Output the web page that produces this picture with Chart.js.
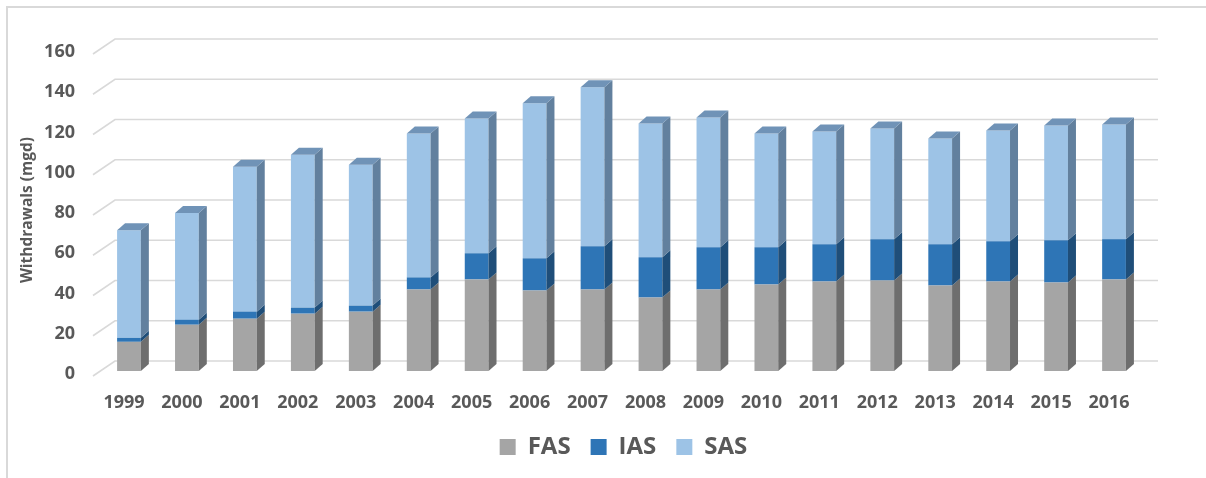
<!DOCTYPE html>
<html>
<head>
<meta charset="utf-8">
<script src="https://cdn.jsdelivr.net/npm/chart.js@4/dist/chart.umd.min.js"></script>
<style>
  html, body { margin: 0; padding: 0; background: #ffffff; }
  #wrap { width: 1206px; height: 478px; position: relative; }
</style>
</head>
<body>
<div id="wrap"><canvas id="c" width="1206" height="478"></canvas></div>
<script>
const years = ['1999','2000','2001','2002','2003','2004','2005','2006','2007','2008','2009','2010','2011','2012','2013','2014','2015','2016'];
const fas = [14.5, 23, 26, 28.5, 29.5, 40.5, 45.5, 40, 40.5, 36.5, 40.5, 43, 44.5, 45, 42.5, 44.5, 44, 45.5];
const ias = [2, 2.5, 3.5, 3, 3, 6, 13, 16, 21.5, 20, 21, 18.5, 18.5, 20.5, 20.5, 20, 21, 20];
const sas = [53.5, 53, 72, 76, 70, 71.5, 67, 77, 79, 66.5, 64.5, 56.5, 56, 55, 52.5, 55, 57, 57];
const yTicks = [0, 20, 40, 60, 80, 100, 120, 140, 160];

const FONT = "'Open Sans', 'DejaVu Sans', sans-serif";
const TXT = '#595959';
const faces = [
  { front: '#A5A5A5', side: '#6E6E6E', top: '#8C8C8C' },
  { front: '#2E75B6', side: '#1F4E79', top: '#255F94' },
  { front: '#9DC3E6', side: '#62809E', top: '#7093B7' }
];
const DX = 8, DY = -7;
const LEGEND_SHIFT = 52;

const framePlugin = {
  id: 'frame',
  afterLayout(chart) {
    const lg = chart.legend;
    if (lg) { lg.left += LEGEND_SHIFT; lg.right += LEGEND_SHIFT; }
  },
  beforeDraw(chart) {
    const ctx = chart.ctx;
    ctx.save();
    ctx.fillStyle = '#ffffff';
    ctx.fillRect(0, 0, chart.width, chart.height);
    ctx.strokeStyle = '#D9D9D9';
    ctx.lineWidth = 2;
    ctx.beginPath();
    ctx.moveTo(7, chart.height + 2);
    ctx.lineTo(7, 7);
    ctx.lineTo(chart.width + 2, 7);
    ctx.stroke();
    ctx.restore();
  },
  beforeDatasetsDraw(chart) {
    const ctx = chart.ctx;
    const y = chart.scales.y;
    const a = chart.chartArea;
    ctx.save();
    ctx.strokeStyle = '#D9D9D9';
    ctx.lineWidth = 1.6;
    yTicks.forEach(v => {
      const py = y.getPixelForValue(v);
      ctx.beginPath();
      ctx.moveTo(a.left - 7, py + 5);
      ctx.lineTo(a.left + 15, py - 10);
      ctx.lineTo(a.right + 15, py - 10);
      ctx.stroke();
    });
    ctx.restore();
  },
  afterDatasetsDraw(chart) {
    const ctx = chart.ctx;
    ctx.save();
    const n = chart.data.datasets.length;
    chart.data.datasets.forEach((ds, di) => {
      const meta = chart.getDatasetMeta(di);
      meta.data.forEach(bar => {
        const p = bar.getProps(['x', 'y', 'base', 'width'], true);
        const r = p.x + p.width / 2;
        const l = p.x - p.width / 2;
        const top = Math.min(p.y, p.base), bot = Math.max(p.y, p.base);
        ctx.fillStyle = faces[di].side;
        ctx.beginPath();
        ctx.moveTo(r, top);
        ctx.lineTo(r + DX, top + DY);
        ctx.lineTo(r + DX, bot + DY);
        ctx.lineTo(r, bot);
        ctx.closePath();
        ctx.fill();
        if (di === n - 1) {
          ctx.fillStyle = faces[di].top;
          ctx.beginPath();
          ctx.moveTo(l, top);
          ctx.lineTo(l + DX, top + DY);
          ctx.lineTo(r + DX, top + DY);
          ctx.lineTo(r, top);
          ctx.closePath();
          ctx.fill();
        }
      });
    });
    ctx.restore();
  }
};

new Chart(document.getElementById('c'), {
  type: 'bar',
  data: {
    labels: years,
    datasets: [
      { label: 'FAS', data: fas, backgroundColor: faces[0].front },
      { label: 'IAS', data: ias, backgroundColor: faces[1].front },
      { label: 'SAS', data: sas, backgroundColor: faces[2].front }
    ]
  },
  options: {
    responsive: false,
    animation: false,
    devicePixelRatio: 1,
    layout: { padding: { top: 49, right: 63, left: 0, bottom: 9 } },
    datasets: { bar: { categoryPercentage: 1, barPercentage: 0.41, borderWidth: 0 } },
    plugins: {
      legend: {
        position: 'bottom',
        labels: {
          font: { family: FONT, size: 24, weight: 'bold' },
          color: TXT,
          boxWidth: 16,
          boxHeight: 16,
          padding: 20
        }
      },
      tooltip: { enabled: false }
    },
    scales: {
      x: {
        stacked: true,
        grid: { display: false, drawTicks: false },
        border: { display: false },
        ticks: {
          font: { family: FONT, size: 18, weight: 'bold' },
          color: TXT,
          padding: 21,
          labelOffset: -5,
          maxRotation: 0
        },
        afterFit(s) { s.height = 44; }
      },
      y: {
        stacked: true,
        min: 0,
        max: 160,
        afterBuildTicks(s) { s.ticks = yTicks.map(v => ({ value: v })); },
        grid: { display: false, drawTicks: false },
        border: { display: false },
        ticks: {
          font: { family: FONT, size: 18, weight: 'bold' },
          color: TXT,
          padding: 25,
          labelOffset: 3
        },
        title: {
          display: true,
          text: 'Withdrawals (mgd)',
          font: { family: FONT, size: 15.5, weight: 'bold' },
          color: TXT,
          padding: { top: 18, bottom: 0 }
        },
        afterFit(s) { s.width = 100; }
      }
    }
  },
  plugins: [framePlugin]
});
</script>
</body>
</html>
